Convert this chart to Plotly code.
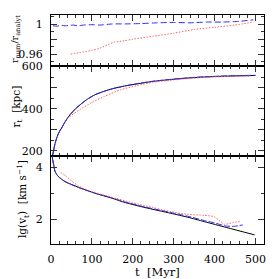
import plotly.graph_objects as go
from plotly.subplots import make_subplots

# ---- data ----
# top panel: r_num / r_analyt
t_ratio_blue = [5, 15, 25, 35, 45, 55, 65, 80, 100, 120, 150, 180, 220, 260, 300, 340, 380, 420, 460, 495]
ratio_blue = [0.998, 0.9975, 0.9985, 0.998, 0.9985, 0.999, 0.998, 0.999, 0.9995, 0.999, 1.0005, 1.0005,
              1.001, 1.002, 1.0025, 1.002, 1.003, 1.003, 1.004, 1.006]
t_ratio_red = [48, 70, 100, 120, 140, 155, 180, 200, 250, 300, 350, 400, 450, 495]
ratio_red = [0.960, 0.962, 0.965, 0.968, 0.973, 0.976, 0.978, 0.980, 0.984, 0.988, 0.993, 0.996, 0.999, 1.003]

# middle panel: r_t [kpc]
t_an = [2, 4, 6, 10, 14, 20, 26, 35, 47, 60, 75, 90, 108, 130, 150, 180, 210, 250, 300, 350, 400, 450, 500]
r_an = [150, 180, 200, 235, 262, 290, 309, 340, 373, 400, 425, 447, 467, 483, 495, 508, 518, 530, 540, 548, 553, 556, 558]
t_rnum = [3, 6, 10, 14, 20, 26, 35, 47, 60, 75, 90, 108, 130, 150, 180, 210, 250, 300, 350, 400, 450, 500]
r_num = [165, 200, 235, 262, 290, 309, 340, 373, 400, 425, 447, 467, 483, 495, 508, 519, 531, 541, 549, 554, 557, 559]
t_rred = [40, 50, 70, 100, 130, 170, 210, 250, 300, 375, 430, 485]
r_red = [355, 370, 395, 430, 458, 490, 510, 526, 537, 549, 553, 555]

# bottom panel: lg(v_t) [km s^-1]
t_v_an = [1, 2, 4, 6, 10, 18, 34, 67, 108, 149, 182, 230, 293, 334, 375, 430, 498]
v_an = [5.0, 4.54, 4.3, 4.15, 3.83, 3.64, 3.45, 3.23, 3.0, 2.81, 2.64, 2.45, 2.23, 2.08, 1.91, 1.68, 1.40]
t_v_blue = [2, 4, 10, 18, 34, 67, 108, 149, 182, 230, 293, 334, 375, 400, 428, 448, 469]
v_blue = [4.6, 4.3, 3.83, 3.64, 3.45, 3.22, 3.0, 2.82, 2.66, 2.47, 2.26, 2.12, 1.95, 1.86, 1.74, 1.73, 1.78]
t_v_red = [24, 35, 50, 67, 90, 120, 160, 200, 250, 293, 334, 375, 399, 424, 445, 465]
v_red = [3.80, 3.68, 3.48, 3.28, 3.12, 2.97, 2.80, 2.63, 2.45, 2.29, 2.19, 2.15, 2.10, 1.81, 1.87, 1.93]

x_ticks = [0, 100, 200, 300, 400, 500]

BLUE = "#2b2bff"
RED = "#ff6060"
FONT = "DejaVu Serif"

fig = make_subplots(rows=3, cols=1, shared_xaxes=True, vertical_spacing=0,
                    row_heights=[51, 90, 88])

def line(x, y, color, dash, row):
    fig.add_trace(go.Scatter(x=x, y=y, mode="lines",
                             line=dict(color=color, width=1, dash=dash, shape="spline", smoothing=0.6),
                             showlegend=False, hoverinfo="skip"), row=row, col=1)

line(t_ratio_blue, ratio_blue, BLUE, "6px,3px", 1)
line(t_ratio_red, ratio_red, RED, "1.5px,1.5px", 1)

line(t_an, r_an, "black", "solid", 2)
line(t_rnum, r_num, BLUE, "6px,2px", 2)
line(t_rred, r_red, RED, "1.5px,1.5px", 2)

line(t_v_an, v_an, "black", "solid", 3)
line(t_v_blue, v_blue, BLUE, "6px,2px", 3)
line(t_v_red, v_red, RED, "1.5px,1.5px", 3)

axis_common = dict(showline=True, linecolor="black", linewidth=1, mirror="allticks",
                   ticks="inside", tickcolor="#333", tickwidth=1, showgrid=False, zeroline=False,
                   automargin=False, ticklabelstandoff=5,
                   tickfont=dict(family=FONT, size=11, color="black"))

for r in (1, 2, 3):
    fig.update_xaxes(range=[0, 521], tickvals=x_ticks, ticklen=6,
                     minor=dict(dtick=20, tick0=0, ticklen=3, ticks="inside", tickcolor="#333", showgrid=False),
                     showticklabels=(r == 3), row=r, col=1, **axis_common)

fig.update_yaxes(range=[0.944, 1.0125], tickvals=[0.96, 0.98, 1.0], ticktext=["0.96", "", "1"], ticklen=6,
                 minor=dict(dtick=0.01, tick0=0.96, ticklen=3, ticks="inside", tickcolor="#333", showgrid=False),
                 row=1, col=1, **axis_common)
fig.update_yaxes(range=[176, 603], tickvals=[200, 300, 400, 500, 600], ticktext=["200", "", "400", "", "600"], ticklen=6,
                 minor=dict(dtick=50, tick0=0, ticklen=3, ticks="inside", tickcolor="#333", showgrid=False),
                 row=2, col=1, **axis_common)
fig.update_yaxes(range=[1.05, 4.43], tickvals=[2, 4], ticktext=["2", "4"], ticklen=6,
                 minor=dict(dtick=1, tick0=0, ticklen=3, ticks="inside", tickcolor="#333", showgrid=False),
                 row=3, col=1, **axis_common)

# pixel -> paper helpers (plot area in the window: x 51..264, y 15..244)
def px(xpix):
    return (xpix - 51) / 213.0

def py(ypix):
    return (244 - ypix) / 229.0

title_font = dict(family=FONT, size=10.5, color="black")
annots = [
    dict(text="t\u00a0\u00a0[Myr]", x=px(157), y=py(272), font=dict(family=FONT, size=11.5, color="black"),
         textangle=0),
    dict(text="r<sub>num</sub>/r<sub>analyt</sub>", x=px(15), y=py(39),
         font=dict(family=FONT, size=9.5, color="black"), textangle=-90),
    dict(text="r<sub>t</sub>\u00a0\u00a0[kpc]", x=px(16.5), y=py(107), font=title_font, textangle=-90),
    dict(text="lg(v<sub>t</sub>)\u00a0\u00a0[km\u00a0s<sup>−1</sup>]", x=px(23), y=py(199), font=title_font, textangle=-90),
]
for a in annots:
    fig.add_annotation(xref="paper", yref="paper", showarrow=False, xanchor="center", yanchor="middle", **a)

# the page body adds an 8px offset, so the figure is 271px with margins shifted by 8px
fig.update_layout(width=271, height=271, margin=dict(l=43, r=15, t=7, b=35),
                  plot_bgcolor="white", paper_bgcolor="white",
                  font=dict(family=FONT, size=11, color="black"))

fig.write_html("out.html")
